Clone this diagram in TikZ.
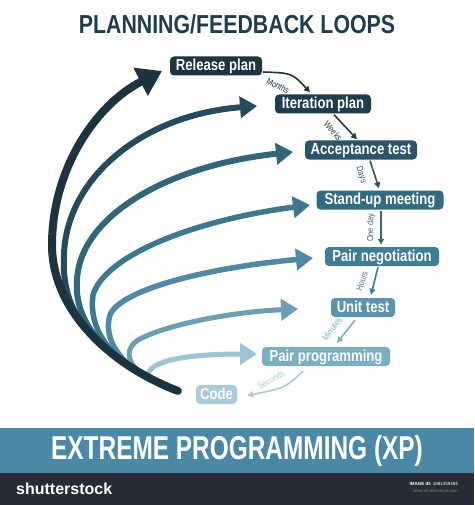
\documentclass[tikz,border=0pt]{standalone}
\usepackage{fontspec}
\setmainfont{Liberation Sans}
\newfontfamily\condfont[FakeStretch=0.82]{Liberation Sans}
\newfontfamily\bannerfont[FakeStretch=0.74]{Liberation Sans}
\usetikzlibrary{arrows.meta,calc}
\definecolor{titlecol}{HTML}{1F3D4D}
\definecolor{colA}{HTML}{1C3440}
\definecolor{colB}{HTML}{1F3E4C}
\definecolor{colC}{HTML}{2B566A}
\definecolor{colD}{HTML}{336B82}
\definecolor{colE}{HTML}{3F7D97}
\definecolor{colF}{HTML}{5B95AD}
\definecolor{colG}{HTML}{7AAEC2}
\definecolor{colH}{HTML}{A8CBD8}
\definecolor{loopB}{HTML}{264B5E}
\definecolor{loopC}{HTML}{326679}
\definecolor{loopD}{HTML}{3D7891}
\definecolor{loopE}{HTML}{4E8AA4}
\definecolor{loopF}{HTML}{6C9FB5}
\definecolor{loopG}{HTML}{9EC3D2}
\definecolor{bannercol}{HTML}{4A89A5}
\definecolor{footcol}{HTML}{262C36}
\tikzset{
  box/.style={rounded corners=4pt, inner xsep=3pt, inner ysep=0pt,
    minimum height=19pt, text height=12pt, text depth=3pt, text=white,
    font=\condfont\bfseries\fontsize{16}{18}\selectfont},
  loopline/.style={line cap=butt, -{Triangle[length=17pt,width=21pt]}},
  conn/.style={line width=1.6pt, -{Triangle[length=6pt,width=6pt]}},
  lbl/.style={font=\condfont\fontsize{9}{10}\selectfont, inner sep=0pt},
}
\begin{document}
\begin{tikzpicture}[x=1pt,y=-1pt]
\useasboundingbox (0,0) rectangle (474,505);
\fill[white] (0,0) rectangle (474,505);

% title
\node[font=\condfont\bfseries\fontsize{26}{28}\selectfont, text=titlecol] (title) at (237,24) {PLANNING/FEEDBACK LOOPS};

% loop curves (lightest first)
\draw[loopline, line width=5pt, loopG] (148,377) .. controls (146,360) and (190,354) .. (257,354);
\draw[loopline, line width=5pt, loopF] (139,372) .. controls (126,360) and (126,348) .. (138,340) .. controls (165,325) and (230,312) .. (298,309);
\draw[loopline, line width=5.5pt, loopE] (130,366) .. controls (112,350) and (105,332) .. (110,315) .. controls (120,290) and (205,268) .. (313,258);
\draw[loopline, line width=5.5pt, loopD] (121,360) .. controls (98,340) and (90,318) .. (93,295) .. controls (105,255) and (195,220) .. (310,205);
\draw[loopline, line width=6pt, loopC] (112,354) .. controls (85,330) and (75,305) .. (77,280) .. controls (80,215) and (170,165) .. (293,152);
\draw[loopline, line width=6pt, loopB] (104,347) .. controls (72,320) and (62,290) .. (64,255) .. controls (66,180) and (140,115) .. (257,106);
\draw[line width=8pt, colA, line cap=round, -{Triangle[length=24pt,width=30pt]}] (178,391) .. controls (110,365) and (52,310) .. (52,245) .. controls (52,170) and (95,105) .. (162,71);

% boxes
\node[box, fill=colA, minimum width=92pt] (rel) at (216,66) {Release plan};
\node[box, fill=colB, minimum width=96pt] (it) at (323,104) {Iteration plan};
\node[box, fill=colC, minimum width=112pt] (acc) at (361,150) {Acceptance test};
\node[box, fill=colD, minimum width=127pt] (stand) at (380,200) {Stand-up meeting};
\node[box, fill=colE, minimum width=114pt] (neg) at (382,256.5) {Pair negotiation};
\node[box, fill=colF, minimum width=64pt] (unit) at (363,307.5) {Unit test};
\node[box, fill=colG, minimum width=128pt] (pp) at (326,356.5) {Pair programming};
\node[box, fill=colH, minimum width=41pt] (code) at (216.5,394.5) {Code};

% connectors
\draw[conn, colA] ($(rel.east)+(1,6)$) .. controls (292,73) .. ($(it.north)+(-13,-2)$);
\draw[conn, colB] ($(it.south)+(11,1)$) -- ($(acc.north)+(-4,-1)$);
\draw[conn, colC] ($(acc.south)+(9,1)$) -- ($(stand.north)+(-1,-2)$);
\draw[conn, colD] ($(stand.south)+(1,1)$) -- ($(neg.north)+(-1,-2)$);
\draw[conn, colE] ($(neg.south)+(-4,1)$) -- ($(unit.north)+(8,-3)$);
\draw[conn, colG] ($(unit.south)+(-8,3)$) -- ($(pp.north)+(11,-4)$);
\draw[conn, colH] ($(pp.south)+(-23,5)$) .. controls (285,388) .. ($(code.east)+(10,1)$);

% connector labels
\node[lbl, text=colA, rotate=-28] (lmonths) at (278,86) {Months};
\node[lbl, text=colB, rotate=-50] (lweeks) at (333,131) {Weeks};
\node[lbl, text=colC, rotate=-72] (ldays) at (361,175) {Days};
\node[lbl, text=colD, rotate=90] (loneday) at (371,228) {One day};
\node[lbl, text=colE, rotate=72] (lhours) at (362,281) {Hours};
\node[lbl, text=colG, rotate=52] (lminutes) at (332,329) {Minutes};
\node[lbl, text=colH, rotate=28] (lseconds) at (271,380) {Seconds};

% banner
\fill[bannercol] (0,428) rectangle (474,473);
\node[font=\bannerfont\bfseries\fontsize{33}{36}\selectfont, text=white] (xp) at (237,451) {EXTREME PROGRAMMING (XP)};

% footer
\fill[footcol] (0,473) rectangle (474,505);
\node[anchor=west, text=white, font=\bfseries\fontsize{16}{18}\selectfont, inner sep=0pt] (ss) at (16,489) {shutterstock};
\node[anchor=east, text=white, font=\fontsize{4.5}{5}\selectfont, inner sep=0pt] (imgid) at (458,484) {\textbf{IMAGE ID:} 1881459484};
\node[anchor=east, text=gray, font=\fontsize{4.5}{5}\selectfont, inner sep=0pt] (www) at (458,491) {www.shutterstock.com};
\end{tikzpicture}
\end{document}
